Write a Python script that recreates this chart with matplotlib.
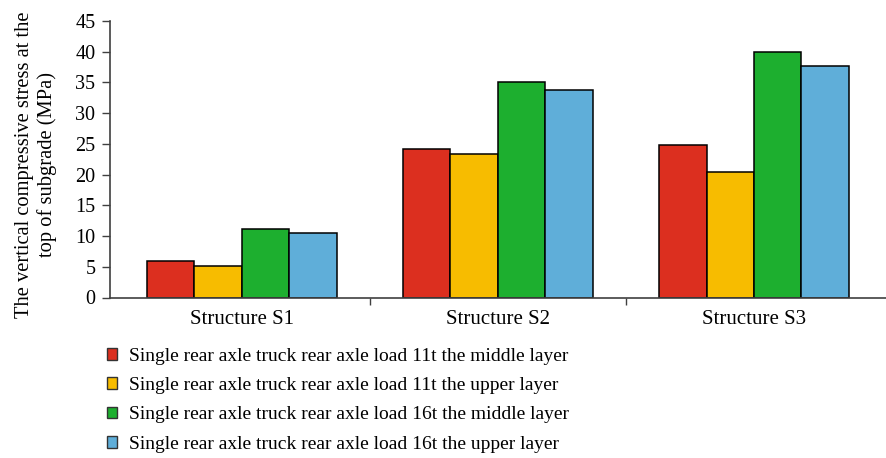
import numpy as np
import matplotlib.pyplot as plt
from matplotlib.patches import Patch

plt.rcParams['font.family'] = ['Liberation Serif', 'DejaVu Serif']

structures = ["Structure S1", "Structure S2", "Structure S3"]
series = [
    "Single rear axle truck rear axle load 11t the middle layer",
    "Single rear axle truck rear axle load 11t the upper layer",
    "Single rear axle truck rear axle load 16t the middle layer",
    "Single rear axle truck rear axle load 16t the upper layer",
]
mid_11t = [6.0, 24.1, 24.8]
up_11t = [5.2, 23.4, 20.5]
mid_16t = [11.1, 35.1, 40.0]
up_16t = [10.5, 33.8, 37.6]
colors = ["#dc2f1f", "#f7bc00", "#1daf2f", "#5faed9"]

fig = plt.figure(figsize=(8.87, 4.58), dpi=100)
ax = fig.add_axes([110 / 887, 160.5 / 458, 1 - 110 / 887, 276.5 / 458])

x = np.arange(len(structures))
w = 0.185
for i, vals in enumerate([mid_11t, up_11t, mid_16t, up_16t]):
    ax.bar(x + (i - 1.5) * w, vals, w, color=colors[i], edgecolor="black", linewidth=1.1)

ax.set_xlim(-0.515, 2.52)
ax.set_ylim(0, 45)
ax.set_yticks(range(0, 46, 5))
ax.set_xticks(x)
ax.set_xticklabels(structures, fontsize=15)
ax.set_xticks([0.5, 1.5], minor=True)
ax.tick_params(axis="x", which="major", length=0, pad=9)
ax.tick_params(axis="x", which="minor", length=5, width=1, color="#404040")
ax.tick_params(axis="y", length=5.5, width=1, color="#404040", labelsize=14.5, pad=5)
for s in ["top", "right"]:
    ax.spines[s].set_visible(False)
for s in ["left", "bottom"]:
    ax.spines[s].set_color("#404040")
    ax.spines[s].set_linewidth(1.2)

ax.set_ylabel("The vertical compressive stress at the\ntop of subgrade (MPa)", fontsize=14.8, linespacing=1.2)
ax.yaxis.set_label_coords(-0.068, 0.48)

handles = [Patch(facecolor=c, edgecolor="#333333", linewidth=1) for c in colors]
fig.legend(handles, series, loc="upper left", bbox_to_anchor=(99 / 887, 1 - 340 / 458),
           frameon=False, fontsize=14, handlelength=0.55, handleheight=0.55,
           handletextpad=0.6, labelspacing=0.63, borderaxespad=0)

fig.savefig("out.png", dpi=100)
